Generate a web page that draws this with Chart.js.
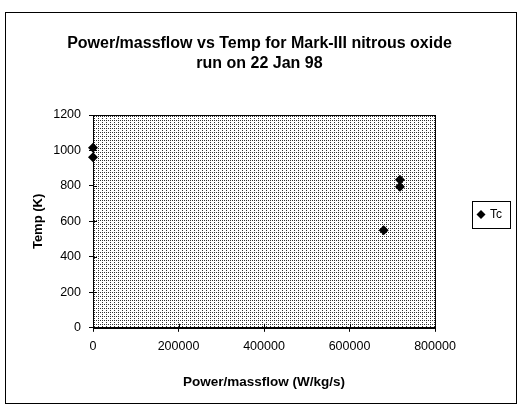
<!DOCTYPE html>
<html>
<head>
<meta charset="utf-8">
<script src="https://cdn.jsdelivr.net/npm/chart.js@4"></script>
<style>
  html, body { margin: 0; padding: 0; background: #fff; }
  #wrap { width: 519px; height: 406px; }
</style>
</head>
<body>
<div id="wrap"><canvas id="c" width="519" height="406"></canvas></div>
<script>
// ---- data ----
const seriesName = "Tc";
const powerPerMassflow = [0, 0, 680000, 718000, 718000];
const temperatureK = [1015, 962, 550, 835, 795];
const xTicks = [0, 200000, 400000, 600000, 800000];
const yTicks = [0, 200, 400, 600, 800, 1000, 1200];
const titleLines = ["Power/massflow vs Temp for Mark-III nitrous oxide", "run on 22 Jan 98"];
const xTitle = "Power/massflow (W/kg/s)";
const yTitle = "Temp (K)";

const FONT = "'Liberation Sans', Arial, sans-serif";

// stipple pattern for the plot background (ordered dither)
function makePattern(ctx) {
  const p = document.createElement('canvas');
  p.width = 4; p.height = 4;
  const pc = p.getContext('2d');
  pc.fillStyle = '#ffffff';
  pc.fillRect(0, 0, 4, 4);
  pc.fillStyle = '#333333';
  const bayer = [[0, 8, 2, 10], [12, 4, 14, 6], [3, 11, 1, 9], [15, 7, 13, 5]];
  for (let r = 0; r < 4; r++) for (let c = 0; c < 4; c++) if (bayer[r][c] < 3) pc.fillRect(c, r, 1, 1);
  return ctx.createPattern(p, 'repeat');
}

const decor = {
  id: 'decor',
  beforeDraw(chart) {
    const { ctx, chartArea: a } = chart;
    ctx.save();
    ctx.fillStyle = '#ffffff';
    ctx.fillRect(0, 0, chart.width, chart.height);
    ctx.fillStyle = makePattern(ctx);
    ctx.fillRect(a.left, a.top, a.right - a.left, a.bottom - a.top);
    ctx.restore();
  },
  afterDatasetsDraw(chart) {
    const { ctx, chartArea: a, scales } = chart;
    ctx.save();
    ctx.strokeStyle = '#000';
    ctx.lineWidth = 1;
    // plot frame
    ctx.strokeRect(Math.round(a.left) + 0.5, Math.round(a.top) + 0.5,
      Math.round(a.right - a.left), Math.round(a.bottom - a.top));
    // cross tick marks (inside part)
    ctx.beginPath();
    scales.y.ticks.forEach(t => {
      const y = Math.round(scales.y.getPixelForValue(t.value)) + 0.5;
      ctx.moveTo(a.left, y); ctx.lineTo(a.left + 4, y);
    });
    scales.x.ticks.forEach(t => {
      const x = Math.round(scales.x.getPixelForValue(t.value)) + 0.5;
      ctx.moveTo(x, a.bottom); ctx.lineTo(x, a.bottom - 4);
    });
    ctx.stroke();
    // outer chart frame
    ctx.strokeRect(5.5, 12.5, 511, 391);
    // legend box
    const lx = 472, ly = 201, lw = 38, lh = 27;
    ctx.fillStyle = '#fff';
    ctx.fillRect(lx, ly, lw, lh);
    ctx.strokeRect(lx + 0.5, ly + 0.5, lw, lh);
    const ds = chart.data.datasets[0];
    ctx.fillStyle = '#000';
    ctx.beginPath();
    const cx = 481, cy = 214.5, r = 4.5;
    ctx.moveTo(cx, cy - r); ctx.lineTo(cx + r, cy); ctx.lineTo(cx, cy + r); ctx.lineTo(cx - r, cy);
    ctx.closePath(); ctx.fill();
    ctx.font = "12px " + FONT;
    ctx.textBaseline = 'middle';
    ctx.textAlign = 'left';
    ctx.fillText(ds.label, 490, cy);
    ctx.restore();
  }
};

new Chart(document.getElementById('c'), {
  type: 'scatter',
  data: {
    datasets: [{
      label: seriesName,
      data: powerPerMassflow.map((x, i) => ({ x: x, y: temperatureK[i] })),
      pointStyle: 'rectRot',
      pointRadius: 5,
      pointHoverRadius: 5,
      backgroundColor: '#000',
      borderColor: '#000',
      borderWidth: 0,
      clip: false
    }]
  },
  options: {
    responsive: false,
    animation: false,
    events: [],
    layout: { padding: { top: 12, left: 5, right: 5, bottom: 16 } },
    plugins: {
      legend: { display: false },
      tooltip: { enabled: false },
      title: {
        display: true,
        text: titleLines,
        color: '#000',
        font: { family: FONT, size: 16, weight: 'bold', lineHeight: 1.25 },
        padding: { top: 22, bottom: 41 }
      }
    },
    scales: {
      x: {
        type: 'linear',
        min: xTicks[0], max: xTicks[xTicks.length - 1],
        afterBuildTicks: s => { s.ticks = xTicks.map(v => ({ value: v })); },
        ticks: { color: '#000', font: { family: FONT, size: 12.5 }, padding: 7, maxRotation: 0,
          callback: v => String(v) },
        grid: { display: true, drawOnChartArea: false, drawTicks: true, tickLength: 4, color: '#000' },
        border: { display: true, color: '#000' },
        title: { display: true, text: xTitle, color: '#000',
          font: { family: FONT, size: 13.5, weight: 'bold' }, padding: { top: 13, bottom: 0 } }
      },
      y: {
        type: 'linear',
        min: yTicks[0], max: yTicks[yTicks.length - 1],
        afterBuildTicks: s => { s.ticks = yTicks.map(v => ({ value: v })); },
        afterFit: s => { s.width = 88; },
        ticks: { color: '#000', font: { family: FONT, size: 12.5 }, padding: 8,
          callback: v => String(v) },
        grid: { display: true, drawOnChartArea: false, drawTicks: true, tickLength: 4, color: '#000' },
        border: { display: true, color: '#000' },
        title: { display: true, text: yTitle, color: '#000',
          font: { family: FONT, size: 13, weight: 'bold' }, padding: { top: 26, bottom: 0 } }
      },
      yRight: {
        type: 'linear',
        position: 'right',
        display: true,
        min: yTicks[0], max: yTicks[yTicks.length - 1],
        afterFit: s => { s.width = 79; },
        ticks: { display: false },
        grid: { display: false, drawTicks: false },
        border: { display: false }
      }
    }
  },
  plugins: [decor]
});
</script>
</body>
</html>
